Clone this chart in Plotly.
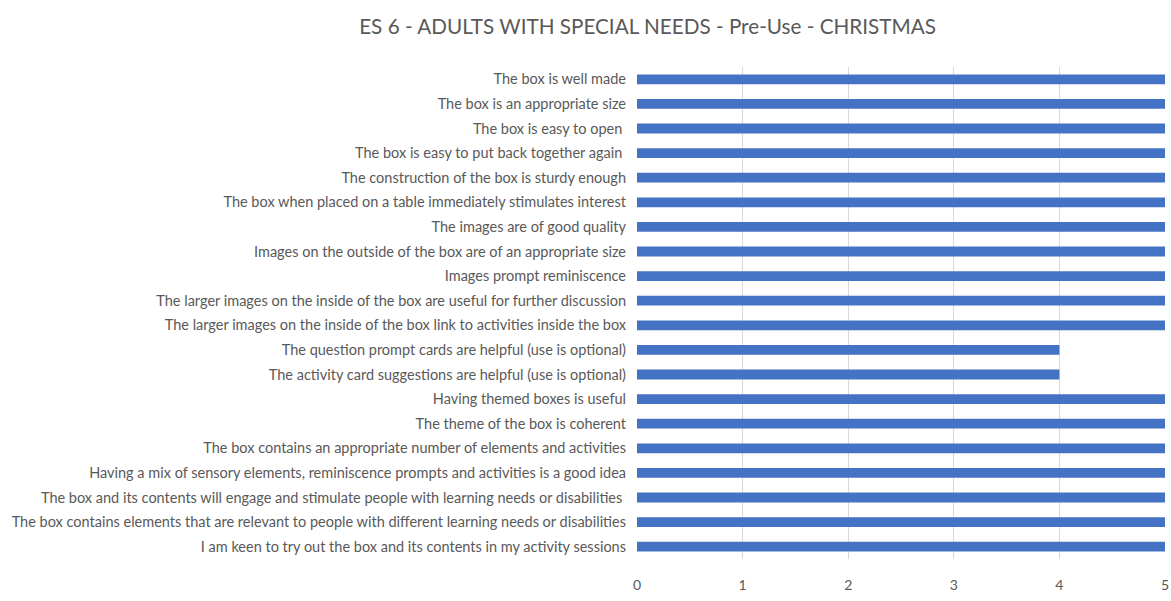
import plotly.graph_objects as go

categories = [
    "The box is well made",
    "The box is an appropriate size",
    "The box is easy to open ",
    "The box is easy to put back together again ",
    "The construction of the box is sturdy enough",
    "The box when placed on a table immediately stimulates interest",
    "The images are of good quality",
    "Images on the outside of the box are of an appropriate size",
    "Images prompt reminiscence",
    "The larger images on the inside of the box are useful for further discussion",
    "The larger images on the inside of the box link to activities inside the box",
    "The question prompt cards are helpful (use is optional)",
    "The activity card suggestions are helpful (use is optional)",
    "Having themed boxes is useful",
    "The theme of the box is coherent",
    "The box contains an appropriate number of elements and activities",
    "Having a mix of sensory elements, reminiscence prompts and activities is a good idea",
    "The box and its contents will engage and stimulate people with learning needs or disabilities ",
    "The box contains elements that are relevant to people with different learning needs or disabilities",
    "I am keen to try out the box and its contents in my activity sessions",
]
values = [5, 5, 5, 5, 5, 5, 5, 5, 5, 5, 5, 4, 4, 5, 5, 5, 5, 5, 5, 5]
x_ticks = [0, 1, 2, 3, 4, 5]
title = "ES 6 - ADULTS WITH SPECIAL NEEDS - Pre-Use - CHRISTMAS"

font_family = "Lato, Open Sans, sans-serif"

fig = go.Figure(go.Bar(
    y=categories,
    x=values,
    orientation="h",
    marker=dict(color="#4472C4", line=dict(width=0)),
    width=0.4,
))

fig.update_layout(
    width=1171,
    height=601,
    paper_bgcolor="white",
    plot_bgcolor="white",
    margin=dict(l=637, r=6, t=67, b=42, autoexpand=False),
    title=dict(text=title, x=0.553, xanchor="center", y=1 - 27 / 601, yanchor="middle",
               font=dict(family=font_family, size=20.7, color="#595959")),
    font=dict(family=font_family, size=14.5, color="#595959"),
    showlegend=False,
)
fig.update_xaxes(
    range=[0, 5],
    tickvals=x_ticks,
    showgrid=True,
    gridcolor="#D9D9D9",
    gridwidth=1,
    zeroline=False,
    showline=False,
    ticks="",
    automargin=False,
    ticklabelstandoff=16,
    ticklabeloverflow="allow",
    tickfont=dict(size=14, color="#595959"),
)
fig.update_yaxes(
    autorange="reversed",
    showgrid=False,
    showline=False,
    ticks="",
    automargin=False,
    ticklabelstandoff=10,
    tickfont=dict(size=14.5, color="#595959"),
)

fig.write_html(
    "out.html",
    config={"displayModeBar": False},
    post_script="document.body.style.margin='0';document.body.style.overflow='hidden';",
)
